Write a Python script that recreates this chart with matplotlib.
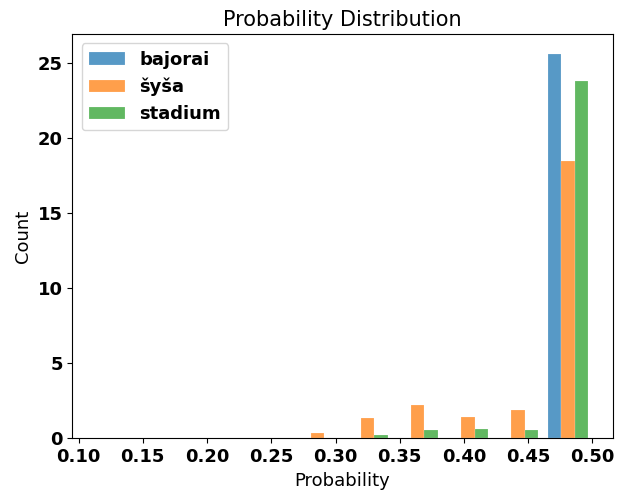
import numpy as np
import matplotlib
matplotlib.use("Agg")
import matplotlib.pyplot as plt

# histogram bins
bin_lo, bin_hi, n_bins = 0.1105, 0.5005, 10

labels = ["bajorai", "šyša", "stadium"]
# density per bin, bins 1..10
bajorai = [0, 0, 0, 0, 0, 0, 0, 0, 0, 25.64]
sysa = [0, 0, 0, 0, 0.36, 1.35, 2.22, 1.44, 1.89, 18.49]
stadium = [0, 0, 0, 0, 0, 0.20, 0.57, 0.62, 0.55, 23.80]

edges = np.linspace(bin_lo, bin_hi, n_bins + 1)
centers = (edges[:-1] + edges[1:]) / 2

fig = plt.figure(figsize=(6.17, 4.92), dpi=100)
ax = fig.add_axes([0.1175, 0.109, 0.8755, 0.821])
ax.hist([centers, centers, centers], bins=edges,
        weights=[bajorai, sysa, stadium], label=labels, alpha=0.75,
        edgecolor="white", linewidth=0.15)
ax.set_title("Probability Distribution", fontsize=15)
ax.set_xlabel("Probability", fontsize=13)
ax.set_ylabel("Count", fontsize=13)
ax.set_xticks([0.10, 0.15, 0.20, 0.25, 0.30, 0.35, 0.40, 0.45, 0.50])
for t in ax.get_xticklabels() + ax.get_yticklabels():
    t.set_fontsize(13)
    t.set_fontweight("bold")
ax.legend(loc="upper left", prop={"size": 13, "weight": "bold"})
fig.savefig("out.png", dpi=100)
